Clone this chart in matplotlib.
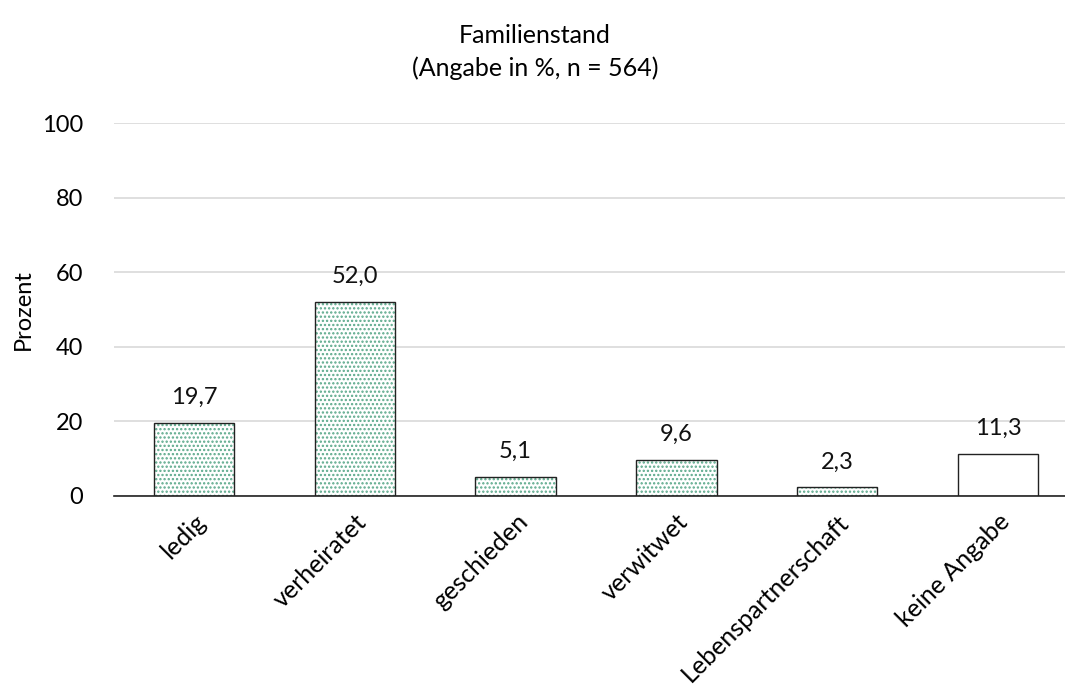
import matplotlib
matplotlib.use("Agg")
import matplotlib.pyplot as plt

categories = ["ledig", "verheiratet", "geschieden", "verwitwet", "Lebenspartnerschaft", "keine Angabe"]
values = [19.7, 52.0, 5.1, 9.6, 2.3, 11.3]
labels = ["19,7", "52,0", "5,1", "9,6", "2,3", "11,3"]
hatched = [True, True, True, True, True, False]

plt.rcParams['font.family'] = ['Lato', 'DejaVu Sans']
plt.rcParams['hatch.linewidth'] = 1.1

fig = plt.figure(figsize=(10.65, 6.95), dpi=100)
ax = fig.add_axes([113.6/1065, 199/695, 964.8/1065, 373/695])

x = list(range(len(categories)))
for xi, v, h in zip(x, values, hatched):
    if h:
        ax.bar(xi, v, width=0.5, color="white", edgecolor="#5aa88a", hatch="....", linewidth=0, zorder=3)
    ax.bar(xi, v, width=0.5, facecolor="none" if h else "white", edgecolor="#222222", linewidth=1.0, zorder=4)

for xi, v, lab in zip(x, values, labels):
    ax.text(xi, v + 6.8, lab, ha="center", va="center", fontsize=17, color="#111111")

ax.set_xlim(-0.5, 5.5)
ax.set_ylim(0, 100)
ax.set_yticks([0, 20, 40, 60, 80, 100])
ax.tick_params(axis='y', labelsize=17, length=0, pad=22)
ax.tick_params(axis='x', length=0, pad=10)
ax.set_xticks(x)
ax.set_xticklabels(categories, rotation=45, ha="right", rotation_mode="anchor", fontsize=18)
ax.yaxis.grid(True, color="#d9d9d9", linewidth=1.2, zorder=0)
ax.set_axisbelow(True)
for s in ["top", "right", "left"]:
    ax.spines[s].set_visible(False)
ax.spines["bottom"].set_color("#222222")
ax.spines["bottom"].set_linewidth(1.2)
ax.spines["bottom"].set_zorder(5)
ax.set_ylabel("Prozent", fontsize=17, labelpad=6)

fig.text(535/1065, 1 - 52/695, "Familienstand\n(Angabe in %, n = 564)", ha="center", va="center",
         fontsize=18, linespacing=1.45)

fig.savefig("out.png", dpi=100)
